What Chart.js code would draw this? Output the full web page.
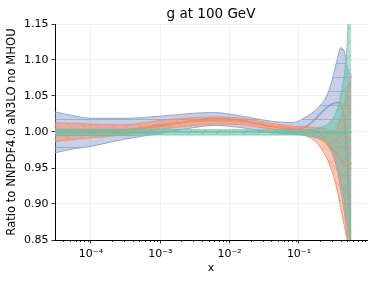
<!DOCTYPE html>
<html><head><meta charset="utf-8">
<script src="https://cdn.jsdelivr.net/npm/chart.js@4.4.1/dist/chart.umd.min.js"></script>
<style>html,body{margin:0;padding:0;background:#fff}#wrap{width:374px;height:281px;position:relative}</style>
</head><body><div id="wrap"><canvas id="c" width="374" height="281"></canvas></div>
<script>
const chartTitle = 'g at 100 GeV';
const xTitle = 'x';
const yTitle = 'Ratio to NNPDF4.0 aN3LO no MHOU';
const yTicks = [0.85, 0.90, 0.95, 1.00, 1.05, 1.10, 1.15];
const xMajorTicks = [1e-4, 1e-3, 1e-2, 1e-1];
const xTickLabels = ['10\u207B\u2074', '10\u207B\u00B3', '10\u207B\u00B2', '10\u207B\u00B9'];

const xGrid = [3e-5, 6e-5, 1e-4, 3e-4, 1e-3, 3e-3, 6e-3, 1.5e-2, 4e-2, 8e-2, 0.13, 0.18, 0.25, 0.3, 0.35, 0.4, 0.45, 0.5, 0.57];

const blueCentral = [1.000, 1.000, 1.000, 1.003, 1.008, 1.016, 1.019, 1.016, 1.008, 1.004, 1.008, 1.020, 1.034, 1.039, 1.041, 1.037, 1.018, 0.960, 0.800];
const blueUpper   = [1.028, 1.022, 1.019, 1.019, 1.022, 1.026, 1.027, 1.022, 1.015, 1.013, 1.022, 1.032, 1.050, 1.072, 1.098, 1.117, 1.112, 1.088, 1.080];
const blueLower   = [0.971, 0.977, 0.980, 0.990, 0.998, 1.006, 1.009, 1.006, 0.999, 0.997, 0.995, 0.992, 0.983, 0.970, 0.950, 0.920, 0.890, 0.850, 0.780];

const orangeCentral = [1.001, 1.002, 1.002, 1.003, 1.010, 1.0145, 1.016, 1.0145, 1.008, 1.005, 1.002, 1.001, 0.987, 0.978, 0.969, 0.961, 0.953, 0.953, 0.957];
const orangeUpper   = [1.013, 1.012, 1.011, 1.010, 1.016, 1.020, 1.021, 1.019, 1.012, 1.008, 1.007, 1.006, 1.004, 1.002, 1.005, 1.020, 1.040, 1.060, 1.078];
const orangeLower   = [0.987, 0.990, 0.992, 0.996, 1.004, 1.009, 1.011, 1.010, 1.004, 1.000, 0.994, 0.985, 0.964, 0.945, 0.922, 0.895, 0.870, 0.848, 0.830];

const greenCentral = [1.000, 1.000, 1.000, 1.000, 1.000, 1.000, 1.000, 1.000, 1.000, 1.000, 1.000, 1.000, 1.000, 1.000, 1.000, 1.000, 1.000, 1.000, 1.000];
const greenUpper   = [1.004, 1.004, 1.004, 1.004, 1.004, 1.003, 1.003, 1.003, 1.003, 1.003, 1.003, 1.005, 1.010, 1.017, 1.030, 1.050, 1.080, 1.130, 1.350];
const greenLower   = [0.995, 0.995, 0.995, 0.995, 0.996, 0.996, 0.996, 0.996, 0.996, 0.996, 0.995, 0.992, 0.987, 0.975, 0.958, 0.932, 0.905, 0.870, 0.840];

const FONT = "'DejaVu Sans', sans-serif";
const canvas = document.getElementById('c');
const ctx0 = canvas.getContext('2d');

function hatch(rgb, fillA, lineA, type, size) {
  const c = document.createElement('canvas');
  c.width = c.height = size;
  const g = c.getContext('2d');
  g.fillStyle = `rgba(${rgb},${fillA})`;
  g.fillRect(0, 0, size, size);
  g.strokeStyle = `rgba(${rgb},${lineA})`;
  g.lineWidth = 0.8;
  g.beginPath();
  if (type === '/') {
    g.moveTo(-1, size + 1); g.lineTo(size + 1, -1);
    g.moveTo(-1, 1); g.lineTo(1, -1);
    g.moveTo(size - 1, size + 1); g.lineTo(size + 1, size - 1);
  } else if (type === '\\') {
    g.moveTo(-1, -1); g.lineTo(size + 1, size + 1);
    g.moveTo(size - 1, -1); g.lineTo(size + 1, 1);
    g.moveTo(-1, size - 1); g.lineTo(1, size + 1);
  } else {
    g.moveTo(0, size / 2 + 0.5); g.lineTo(size, size / 2 + 0.5);
  }
  g.stroke();
  return ctx0.createPattern(c, 'repeat');
}

const GREEN = '102,194,165', ORANGE = '252,141,98', BLUE = '141,160,203';
const pts = arr => arr.map((v, i) => ({x: xGrid[i], y: v}));

function band(rgb, upper, lower, central, type, order) {
  const common = {pointRadius: 0, cubicInterpolationMode: 'monotone'};
  return [
    {...common, data: pts(upper), borderColor: `rgba(${rgb},0.9)`, borderWidth: 1,
     fill: '+1', backgroundColor: hatch(rgb, 0.5, 0.9, type, 14), order: order},
    {...common, data: pts(lower), borderColor: `rgba(${rgb},0.9)`, borderWidth: 1,
     fill: false, order: order},
    {...common, data: pts(central), borderColor: `rgb(${rgb})`, borderWidth: 1.6,
     fill: false, order: order - 0.5}
  ];
}

const datasets = [
  ...band(BLUE, blueUpper, blueLower, blueCentral, '-', 30),
  ...band(ORANGE, orangeUpper, orangeLower, orangeCentral, '\\', 20),
  ...band(GREEN, greenUpper, greenLower, greenCentral, '/', 10)
];

const titlePlugin = {
  id: 'ttl',
  afterDraw(chart) {
    const c = chart.ctx, a = chart.chartArea;
    c.save();
    c.font = `13.5px ${FONT}`;
    c.fillStyle = '#000';
    c.textAlign = 'center';
    c.textBaseline = 'alphabetic';
    c.fillText(chartTitle, (a.left + a.right) / 2, 18);
    const xs = chart.scales.x;
    c.strokeStyle = '#000';
    c.lineWidth = 0.8;
    c.beginPath();
    xs.ticks.forEach(t => {
      if (!t.major) {
        const px = Math.round(xs.getPixelForValue(t.value)) + 0.5;
        c.moveTo(px, a.bottom); c.lineTo(px, a.bottom + 2);
      }
    });
    c.stroke();
    c.restore();
  }
};

const isMajor = v => Math.abs(Math.log10(v) - Math.round(Math.log10(v))) < 1e-6;

new Chart(canvas, {
  type: 'line',
  data: {datasets},
  plugins: [titlePlugin],
  options: {
    responsive: false,
    animation: false,
    devicePixelRatio: 1,
    layout: {padding: {left: 0, right: 7, top: 24, bottom: 0}},
    plugins: {legend: {display: false}, tooltip: {enabled: false}, title: {display: false}},
    scales: {
      x: {
        type: 'logarithmic',
        min: 3.03e-5, max: 0.957,
        afterBuildTicks(scale) {
          const t = [];
          for (let e = -5; e <= -1; e++) for (let m = 1; m <= 9; m++) {
            const v = m * Math.pow(10, e);
            if (v >= scale.min && v <= scale.max) t.push({value: v, major: isMajor(v)});
          }
          scale.ticks = t;
        },
        afterFit(scale) { scale.height = 41; },
        ticks: {
          autoSkip: false, maxRotation: 0, minRotation: 0, padding: 4,
          color: '#000', font: {family: FONT, size: 11},
          callback(v) { const i = xMajorTicks.findIndex(m => Math.abs(m - v) / m < 1e-6); return i >= 0 ? xTickLabels[i] : ''; }
        },
        grid: {
          color: c => (c.tick && c.tick.major) ? '#ebebeb' : 'rgba(0,0,0,0)',
          tickColor: c => (c.tick && c.tick.major) ? '#000' : 'rgba(0,0,0,0)',
          tickLength: 3.5, lineWidth: 0.8
        },
        border: {display: true, color: '#000', width: 1},
        title: {display: true, text: xTitle, color: '#000', font: {family: FONT, size: 11}, padding: {top: 0, bottom: 6}}
      },
      y: {
        min: 0.85, max: 1.15,
        afterBuildTicks(scale) { scale.ticks = yTicks.map(v => ({value: v})); },
        afterFit(scale) { scale.width = 55; },
        ticks: {color: '#000', font: {family: FONT, size: 11}, padding: 3, callback: v => Number(v).toFixed(2)},
        grid: {color: '#ebebeb', tickColor: '#000', tickLength: 3.5, lineWidth: 0.8},
        border: {display: true, color: '#000', width: 1},
        title: {display: true, text: yTitle, color: '#000', font: {family: FONT, size: 11.6}, padding: {top: 5, bottom: 0}}
      }
    }
  }
});
</script></body></html>
